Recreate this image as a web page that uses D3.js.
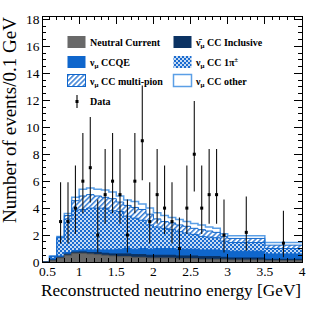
<!DOCTYPE html>
<html><head><meta charset="utf-8">
<script src="https://cdn.jsdelivr.net/npm/d3@7"></script>
<style>body{margin:0;background:#fff}</style>
</head><body><svg id="c" width="317" height="309"></svg>
<script>
// ---- data ----
const binEdges = [0.5,0.6,0.7,0.8,0.9,1.0,1.1,1.2,1.3,1.4,1.5,1.6,1.7,1.8,1.9,2.0,2.1,2.2,2.3,2.4,2.5,2.6,2.7,2.8,2.9,3.0,3.5,4.0];
const neutralCurrent = [0,0.1,0.3,0.5,0.65,0.65,0.6,0.55,0.5,0.45,0.4,0.4,0.35,0.35,0.3,0.3,0.3,0.3,0.25,0.25,0.25,0.2,0.2,0.2,0.2,0.15,0.1];
const antiNuCC      = [0,0.05,0.05,0.08,0.08,0.1,0.1,0.15,0.15,0.15,0.2,0.2,0.2,0.2,0.2,0.2,0.2,0.2,0.2,0.2,0.2,0.2,0.2,0.2,0.15,0.15,0.1];
const ccqe          = [0,0.1,0.1,0.12,0.12,0.15,0.2,0.2,0.25,0.3,0.35,0.4,0.4,0.45,0.45,0.5,0.5,0.5,0.5,0.5,0.5,0.5,0.5,0.5,0.5,0.5,0.4];
const cc1pi         = [0,0.15,1.35,2.5,3.0,3.0,3.1,3.1,3.1,2.9,2.8,2.4,2.3,2.1,1.8,1.6,1.5,1.4,1.3,1.2,1.1,1.0,0.95,0.9,0.7,0.65,0.4];
const ccMultiPi     = [0,0.03,0.05,0.25,0.7,1.0,1.0,0.9,0.8,0.9,0.7,0.8,0.8,0.8,0.8,0.6,0.5,0.5,0.5,0.5,0.45,0.5,0.45,0.4,0.35,0.3,0.25];
const ccOther       = [0,0.02,0.05,0.15,0.25,0.5,0.5,0.5,0.55,0.5,0.45,0.4,0.45,0.4,0.45,0.45,0.45,0.4,0.4,0.35,0.35,0.35,0.3,0.3,0.2,0.2,0.2];

const dataX  = [0.75,0.85,0.95,1.05,1.15,1.25,1.35,1.45,1.55,1.65,1.75,1.85,1.95,2.05,2.15,2.25,2.35,2.45,2.55,2.65,2.75,2.85,2.95,3.25,3.75];
const dataY  = [3,3,4,6,7,2,5,6,5,2,6,9,3,5,4,3,1,4,8,4,5,5,2,2.2,1.4];
const dataHi = [5.92,5.92,7.16,9.58,10.77,4.64,8.38,9.58,8.38,4.64,9.58,13.11,5.92,8.38,7.16,5.92,3.30,7.16,11.95,7.16,8.38,8.38,4.64,4.86,3.8];
const dataLo = [1.37,1.37,2.08,3.62,4.42,0.71,2.84,3.62,2.84,0.71,3.62,6.06,1.37,2.84,2.08,1.37,0.17,2.08,5.23,2.08,2.84,2.84,0.71,0.84,0.35];

const yMajorTicks = [0,2,4,6,8,10,12,14,16,18];
const xMajorTicks = [0.5,1,1.5,2,2.5,3,3.5,4];
const xTickLabels = ["0.5","1","1.5","2","2.5","3","3.5","4"];

// ---- setup ----
const svg = d3.select("#c");
const L=42,R=302,T=16,B=262;
const x = d3.scaleLinear().domain([0.5,4]).range([L,R]);
const y = d3.scaleLinear().domain([0,18.26]).range([B,T]);

const defs = svg.append("defs");
const dots = defs.append("pattern").attr("id","dots").attr("patternUnits","userSpaceOnUse")
  .attr("width",4).attr("height",4);
dots.append("rect").attr("width",4).attr("height",4).attr("fill","#1a6bcf");
dots.append("circle").attr("cx",1).attr("cy",1).attr("r",1.0).attr("fill","#fff");
dots.append("circle").attr("cx",3).attr("cy",3).attr("r",1.0).attr("fill","#fff");
const hatch = defs.append("pattern").attr("id","hatch").attr("patternUnits","userSpaceOnUse")
  .attr("width",3.6).attr("height",3.6).attr("patternTransform","rotate(45)");
hatch.append("rect").attr("width",3.6).attr("height",3.6).attr("fill","#fff");
hatch.append("line").attr("x1",0.8).attr("y1",0).attr("x2",0.8).attr("y2",3.6)
  .attr("stroke","#1266cc").attr("stroke-width",1.3);

svg.append("rect").attr("width",317).attr("height",309).attr("fill","#fff");

const layers = [
  {vals:neutralCurrent, fill:"#696969", stroke:"#555"},
  {vals:antiNuCC, fill:"#0b3263", stroke:"#0b3263"},
  {vals:ccqe, fill:"#0f66cc", stroke:"#0f66cc"},
  {vals:cc1pi, fill:"url(#dots)", stroke:"#0f66cc"},
  {vals:ccMultiPi, fill:"url(#hatch)", stroke:"#0f66cc"},
  {vals:ccOther, fill:"#fff", stroke:"#5b9fe6"}
];
const n = binEdges.length-1;
let cum = new Array(n).fill(0);
layers.forEach(l=>{ cum = cum.map((c,i)=>c+l.vals[i]); l.cum = cum.slice(); });

const area = d3.area().curve(d3.curveStepAfter).x(d=>x(d.x)).y0(y(0)).y1(d=>y(d.v));
const line = d3.line().curve(d3.curveStepAfter).x(d=>x(d.x)).y(d=>y(d.v));
const plot = svg.append("g");
for (let k=layers.length-1;k>=0;k--){
  const l=layers[k];
  const pts = binEdges.map((e,i)=>({x:e, v:l.cum[Math.min(i,n-1)]}));
  plot.append("path").attr("d",area(pts)).attr("fill",l.fill);
  plot.append("path").attr("d",line(pts)).attr("fill","none").attr("stroke",l.stroke).attr("stroke-width",k===5?1.5:1);
}
// ---- data points ----
const dg = svg.append("g");
dataX.forEach((dx,i)=>{
  dg.append("line").attr("x1",x(dx)).attr("x2",x(dx)).attr("y1",y(dataLo[i])).attr("y2",y(dataHi[i]))
    .attr("stroke","#111").attr("stroke-width",1.1);
  dg.append("rect").attr("x",x(dx)-1.5).attr("y",y(dataY[i])-1.5).attr("width",3).attr("height",3).attr("fill","#000");
});

// ---- frame & ticks ----
const ax = svg.append("g").attr("stroke","#000").attr("stroke-width",1).attr("shape-rendering","crispEdges");
ax.append("rect").attr("x",L).attr("y",T).attr("width",R-L).attr("height",B-T).attr("fill","none");
const yMinor = d3.range(0,18.26,0.5);
yMinor.forEach(v=>{
  const major = yMajorTicks.includes(v);
  const len = major?8:4;
  ax.append("line").attr("x1",L).attr("x2",L+len).attr("y1",y(v)).attr("y2",y(v));
  ax.append("line").attr("x1",R).attr("x2",R-len).attr("y1",y(v)).attr("y2",y(v));
});
const xMinor = d3.range(5,41).map(i=>i/10);
xMinor.forEach(v=>{
  const major = xMajorTicks.some(m=>Math.abs(m-v)<1e-6);
  const len = major?8:4;
  ax.append("line").attr("x1",x(v)).attr("x2",x(v)).attr("y1",B).attr("y2",B-len);
  ax.append("line").attr("x1",x(v)).attr("x2",x(v)).attr("y1",T).attr("y2",T+len);
});
const tf = "'Liberation Serif','Times New Roman',serif";
const tl = svg.append("g").attr("font-family",tf).attr("font-size",13.5).attr("fill","#000");
yMajorTicks.forEach(v=>{
  tl.append("text").attr("x",39.5).attr("y",y(v)+4.5).attr("text-anchor","end").text(v);
});
xMajorTicks.forEach((v,i)=>{
  tl.append("text").attr("x",x(v)+(i===0?5.5:0)).attr("y",276).attr("text-anchor","middle").text(xTickLabels[i]);
});
svg.append("text").attr("x",171).attr("y",296).attr("text-anchor","middle")
  .attr("font-family",tf).attr("font-size",17.3).text("Reconstructed neutrino energy [GeV]");
svg.append("text").attr("transform","translate(16,120) rotate(-90)").attr("text-anchor","middle")
  .attr("font-family",tf).attr("font-size",19).text("Number of events/0.1 GeV");

// ---- legend ----
const lg = svg.append("g").attr("font-family",tf).attr("font-size",10).attr("font-weight","bold");
function sw(x0,y0,fill,stroke,sw){ lg.append("rect").attr("x",x0).attr("y",y0).attr("width",18).attr("height",12)
  .attr("fill",fill).attr("stroke",stroke).attr("stroke-width",sw); }
function lab(x0,y0,parts){ const t=lg.append("text").attr("x",x0).attr("y",y0);
  parts.forEach(p=>{ const s=t.append("tspan").text(p[0]); if(p[1]==="sub") s.attr("font-size",7).attr("dy",2);
    if(p[1]==="sup") s.attr("font-size",7).attr("dy",-4); if(p[1]==="back") s.attr("dy",p[2]); }); }
sw(67.5,36,"#696969","none",0); lab(90,46,[["Neutral Current"]]);
sw(67.5,56,"#0f66cc","none",0); lab(90,66,[["ν"],["μ","sub"],[" CCQE","back",-2]]);
sw(67.5,74.5,"url(#hatch)","#0f66cc",1); lab(90,85,[["ν"],["μ","sub"],[" CC multi-pion","back",-2]]);
lg.append("line").attr("x1",77).attr("x2",77).attr("y1",95).attr("y2",108).attr("stroke","#000").attr("stroke-width",1.1);
lg.append("rect").attr("x",75.5).attr("y",100).attr("width",3).attr("height",3).attr("fill","#000");
lab(90,105,[["Data"]]);
sw(173.5,36,"#0b3263","none",0); lab(196,46,[["ν\u0304"],["μ","sub"],[" CC Inclusive","back",-2]]);
sw(173.5,56,"url(#dots)","none",0); lab(196,66,[["ν"],["μ","sub"],[" CC 1π","back",-2],["±","sup"]]);
sw(173.5,74.5,"#fff","#5b9fe6",1.5); lab(196,85,[["ν"],["μ","sub"],[" CC other","back",-2]]);
</script></body></html>
